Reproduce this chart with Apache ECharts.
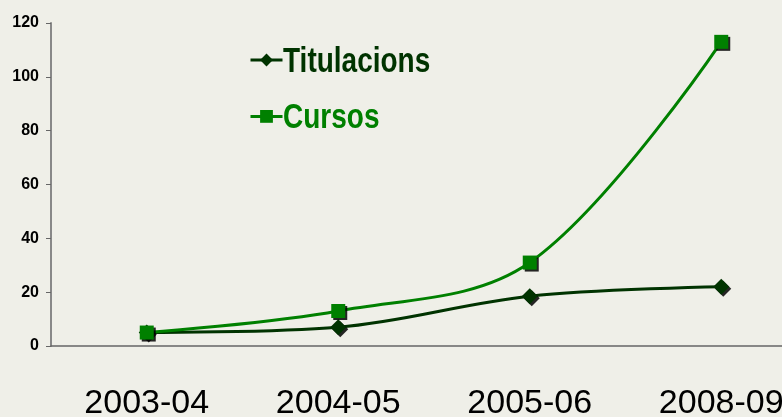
<!DOCTYPE html>
<html>
<head>
<meta charset="utf-8">
<script src="https://cdn.jsdelivr.net/npm/echarts@6/dist/echarts.min.js"></script>
<style>
  html, body { margin: 0; padding: 0; background: #efefe8; }
  #chart { width: 782px; height: 417px; }
</style>
</head>
<body>
<div id="chart"></div>
<script>
// dades
const cursosAcademics = ['2003-04', '2004-05', '2005-06', '2008-09'];
const titulacions = [5, 7, 18.5, 22];
const cursos = [5, 13, 31, 113];
const nomsSeries = ['Titulacions', 'Cursos'];
const colors = ['#003300', '#008000'];

const chart = echarts.init(document.getElementById('chart'));

// ombra dels marcadors
const ombra = {
    shadowColor: 'rgba(0,0,0,0.85)',
    shadowOffsetX: 2,
    shadowOffsetY: 2,
    shadowBlur: 0
};

// text de la llegenda, estret com l'original
const textLlegenda = (nom, color, y) => ({
    type: 'text',
    left: 283,
    top: y,
    scaleX: 0.8,
    style: {
        text: nom,
        fill: color,
        font: 'bold 35px "Liberation Sans", Arial, sans-serif'
    }
});

chart.setOption({
    backgroundColor: '#efefe8',
    animation: false,
    grid: { left: 51, right: -35, top: 23, bottom: 71, outerBoundsMode: 'none' },
    legend: {
        orient: 'vertical',
        left: 244,
        top: 47,
        itemGap: 42,
        itemWidth: 32,
        itemHeight: 16,
        data: nomsSeries,
        formatter: () => '',
        textStyle: { fontSize: 12 },
        lineStyle: { width: 3 }
    },
    graphic: [
        textLlegenda(nomsSeries[0], colors[0], 45),
        textLlegenda(nomsSeries[1], colors[1], 101)
    ],
    xAxis: {
        type: 'category',
        data: cursosAcademics,
        axisLine: { lineStyle: { color: '#666', width: 1.5 } },
        axisTick: { length: 11, lineStyle: { color: '#888', width: 1.5 } },
        axisLabel: {
            color: '#000',
            fontFamily: 'Liberation Sans',
            fontSize: 34,
            margin: 41
        }
    },
    yAxis: {
        type: 'value',
        min: 0,
        max: 120,
        interval: 20,
        splitLine: { show: false },
        axisLine: { show: true, lineStyle: { color: '#888', width: 2 } },
        axisTick: { show: true, length: 5, lineStyle: { color: '#666' } },
        axisLabel: {
            color: '#000',
            fontFamily: 'Liberation Sans',
            fontWeight: 'bold',
            fontSize: 16,
            margin: 12
        }
    },
    series: [
        {
            name: nomsSeries[0],
            type: 'line',
            data: titulacions,
            smooth: 0.35,
            symbol: 'diamond',
            symbolSize: 16,
            color: colors[0],
            lineStyle: { width: 3, color: colors[0] },
            itemStyle: Object.assign({ color: colors[0] }, ombra)
        },
        {
            name: nomsSeries[1],
            type: 'line',
            data: cursos,
            smooth: 0.35,
            symbol: 'rect',
            symbolSize: 14,
            color: colors[1],
            lineStyle: { width: 3, color: colors[1] },
            itemStyle: Object.assign({ color: colors[1] }, ombra)
        }
    ]
});
</script>
</body>
</html>
